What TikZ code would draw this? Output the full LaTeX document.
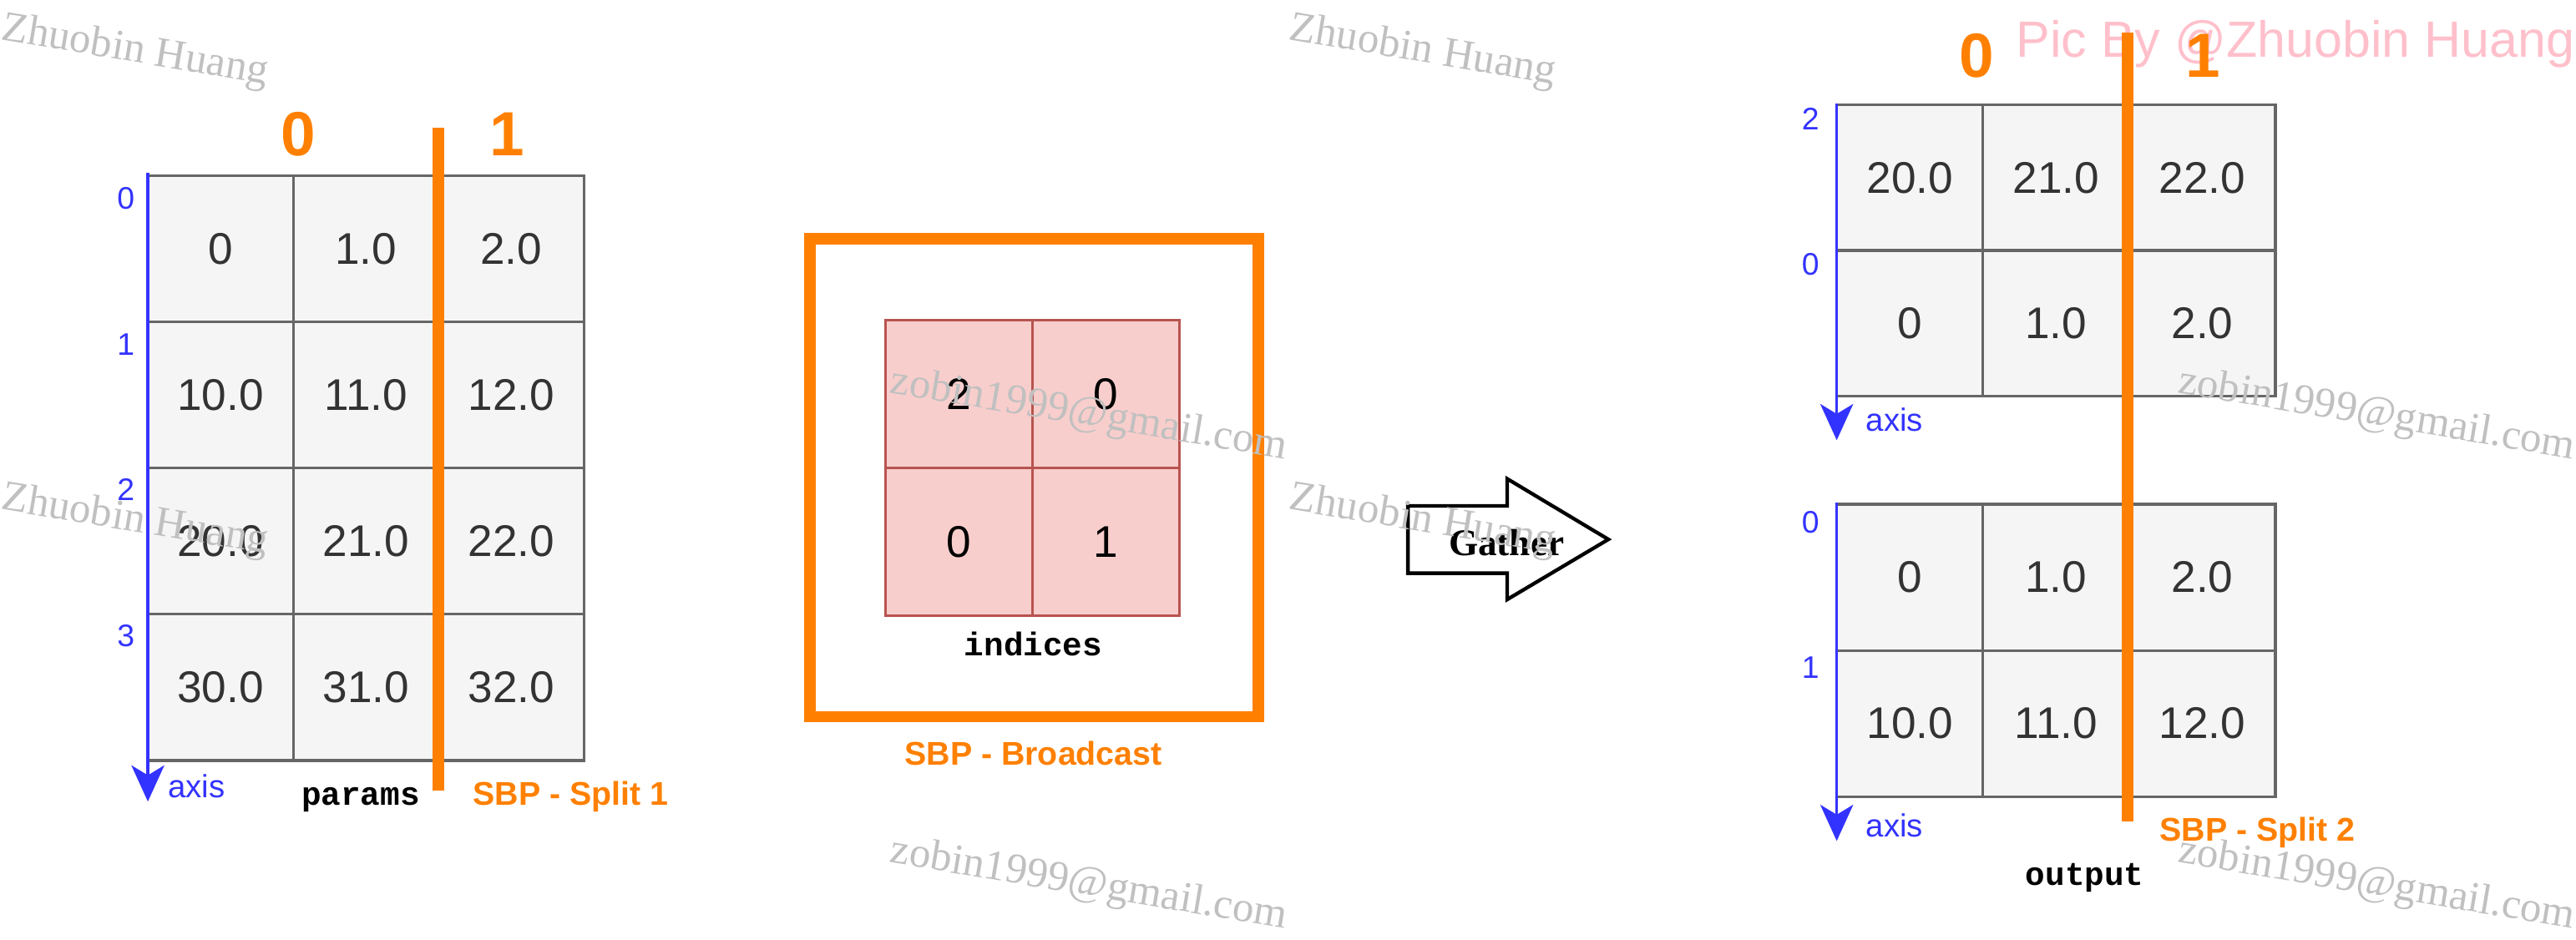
\documentclass[tikz,border=0pt]{standalone}
\usepackage{fontspec}
\setmainfont{Liberation Sans}
\newfontfamily\wmfont{Liberation Serif}
\newfontfamily\codefont{Liberation Mono}
\usetikzlibrary{arrows.meta}
\definecolor{cellfill}{HTML}{F5F5F5}
\definecolor{cellline}{HTML}{666666}
\definecolor{celltext}{HTML}{333333}
\definecolor{pinkfill}{HTML}{F8CECC}
\definecolor{pinkline}{HTML}{B85450}
\definecolor{sbporange}{HTML}{FF8000}
\definecolor{axisblue}{HTML}{3333FF}
\definecolor{wmgray}{HTML}{C0C0C0}
\definecolor{picpink}{HTML}{FFC0CB}
\begin{document}
\begin{tikzpicture}[x=1pt,y=-1pt,
  cell/.style={rectangle, draw=cellline, fill=cellfill, line width=1.6pt,
    minimum width=88.5pt, minimum height=89pt, inner sep=0pt, text=celltext,
    font=\fontsize{27}{27}\selectfont},
  pinkcell/.style={cell, draw=pinkline, fill=pinkfill, text=black,
    minimum width=89.5pt, minimum height=90pt},
  axisarrow/.style={draw=axisblue, line width=1.8pt,
    -{Stealth[length=22pt,width=20pt,inset=6pt]}},
  splitline/.style={draw=sbporange, line width=7pt},
  idxlabel/.style={text=axisblue, inner sep=0pt, font=\fontsize{19}{19}\selectfont},
  axislabel/.style={text=axisblue, inner sep=0pt, anchor=base west, font=\fontsize{19.5}{19.5}\selectfont},
  bigdigit/.style={text=sbporange, inner sep=0pt, font=\fontsize{38}{38}\selectfont\bfseries},
  sbplabel/.style={text=sbporange, inner sep=0pt, anchor=base, font=\fontsize{20}{20}\selectfont\bfseries},
  codelabel/.style={text=black, inner sep=0pt, anchor=base, font=\fontsize{20}{20}\selectfont\codefont\bfseries},
  wm/.style={text=wmgray, inner sep=0pt, anchor=base west, rotate=-9.5, font=\fontsize{26}{26}\selectfont\wmfont}
]
\path[use as bounding box] (0,0) rectangle (1568,572);
\clip (0,0) rectangle (1568,572);

% ---------- params ----------
\foreach \r/\a/\b/\c in {1/0/1.0/2.0, 2/10.0/11.0/12.0, 3/20.0/21.0/22.0, 4/30.0/31.0/32.0}{
  \node[cell] (p\r a) at (134.25,{107+89*(\r-0.5)}) {\a};
  \node[cell] (p\r b) at (222.75,{107+89*(\r-0.5)}) {\b};
  \node[cell] (p\r c) at (311.25,{107+89*(\r-0.5)}) {\c};
}
\coordinate (axL0) at (90,105);
\coordinate (axL1) at (90,488);
\draw[axisarrow] (axL0) -- (axL1);
\node[idxlabel] (pl0) at (76.6,121) {0};
\node[idxlabel] (pl1) at (76.6,209.5) {1};
\node[idxlabel] (pl2) at (76.6,298) {2};
\node[idxlabel] (pl3) at (76.6,387) {3};
\node[axislabel] (paxis) at (102,485.6) {axis};
\coordinate (sL0) at (267,78);
\coordinate (sL1) at (267,481.5);
\draw[splitline] (sL0) -- (sL1);
\node[bigdigit] (pd0) at (181.8,81.5) {0};
\node[bigdigit] (pd1) at (308.5,81.5) {1};
\node[codelabel] (params) at (219.5,490) {params};
\node[sbplabel] (split1) at (347.5,490.4) {SBP - Split 1};

% ---------- indices ----------
\node[draw=sbporange, line width=7pt, minimum width=273pt, minimum height=291.2pt,
  inner sep=0pt] (bcast) at (629.5,290.8) {};
\node[pinkcell] (i11) at (583.75,240) {2};
\node[pinkcell] (i12) at (673.25,240) {0};
\node[pinkcell] (i21) at (583.75,330) {0};
\node[pinkcell] (i22) at (673.25,330) {1};
\node[codelabel] (indices) at (629,399) {indices};
\node[sbplabel] (bclabel) at (629,466) {SBP - Broadcast};

% ---------- Gather arrow ----------
\draw[black, fill=white, line width=2.2pt, line join=miter]
  (857,308) -- (917.4,308) -- (917.4,291.5) -- (979,328.4) -- (917.4,365)
  -- (917.4,349) -- (857,349) -- cycle;
\node[inner sep=0pt, anchor=base, font=\fontsize{23}{23}\selectfont\wmfont\bfseries] (gather) at (917,338) {Gather};

% ---------- output ----------
\node[text=picpink, inner sep=0pt, anchor=base west, font=\fontsize{31}{31}\selectfont] (picby) at (1227,35) {Pic By @Zhuobin Huang};
\foreach \r/\a/\b/\c in {1/20.0/21.0/22.0, 2/0/1.0/2.0}{
  \node[cell, minimum width=89pt, minimum height=88.5pt] (a\r a) at (1162.5,{64+88.5*(\r-0.5)}) {\a};
  \node[cell, minimum width=89pt, minimum height=88.5pt] (a\r b) at (1251.5,{64+88.5*(\r-0.5)}) {\b};
  \node[cell, minimum width=89pt, minimum height=88.5pt] (a\r c) at (1340.5,{64+88.5*(\r-0.5)}) {\c};
}
\foreach \r/\a/\b/\c in {1/0/1.0/2.0, 2/10.0/11.0/12.0}{
  \node[cell, minimum width=89pt] (b\r a) at (1162.5,{307+89*(\r-0.5)}) {\a};
  \node[cell, minimum width=89pt] (b\r b) at (1251.5,{307+89*(\r-0.5)}) {\b};
  \node[cell, minimum width=89pt] (b\r c) at (1340.5,{307+89*(\r-0.5)}) {\c};
}
\coordinate (axA0) at (1118,63);
\coordinate (axA1) at (1118,268);
\draw[axisarrow] (axA0) -- (axA1);
\coordinate (axB0) at (1118,306);
\coordinate (axB1) at (1118,512);
\draw[axisarrow] (axB0) -- (axB1);
\node[idxlabel] (al2) at (1102,72.5) {2};
\node[idxlabel] (al0) at (1102,161) {0};
\node[idxlabel] (bl0) at (1102,318) {0};
\node[idxlabel] (bl1) at (1102,406.5) {1};
\node[axislabel] (aaxis) at (1135.6,262.6) {axis};
\node[axislabel] (baxis) at (1135.6,509.6) {axis};
\coordinate (sR0) at (1295,20);
\coordinate (sR1) at (1295,500);
\draw[splitline] (sR0) -- (sR1);
\node[bigdigit] (od0) at (1203,34) {0};
\node[bigdigit] (od1) at (1341,34) {1};
\node[sbplabel] (split2) at (1374,512) {SBP - Split 2};
\node[codelabel] (output) at (1269,539) {output};

% ---------- watermarks ----------
\node[wm] (wm1) at (0,24) {Zhuobin Huang};
\node[wm] (wm2) at (784,24) {Zhuobin Huang};
\node[wm] (wm3) at (0,310) {Zhuobin Huang};
\node[wm] (wm4) at (784,310) {Zhuobin Huang};
\node[wm] (wm5) at (541,239) {zobin1999@gmail.com};
\node[wm] (wm6) at (1325,239) {zobin1999@gmail.com};
\node[wm] (wm7) at (541,525) {zobin1999@gmail.com};
\node[wm] (wm8) at (1325,525) {zobin1999@gmail.com};
\end{tikzpicture}
\end{document}
